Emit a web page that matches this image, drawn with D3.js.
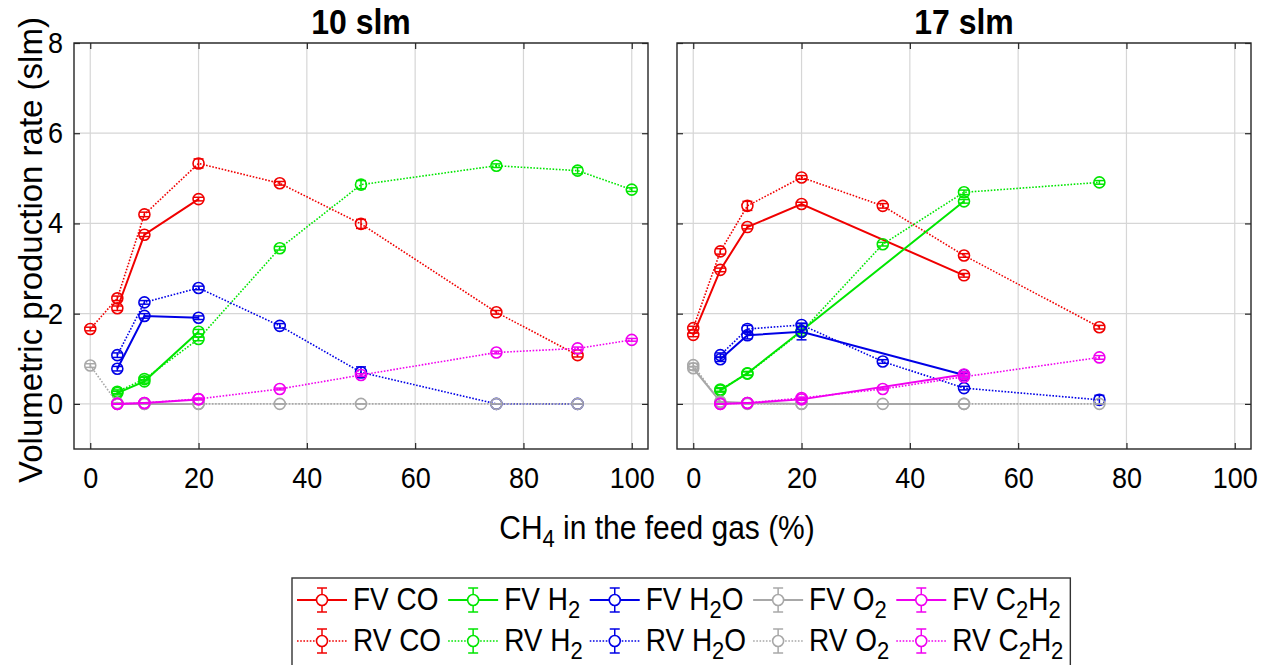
<!DOCTYPE html>
<html><head><meta charset="utf-8">
<script src="https://cdn.jsdelivr.net/npm/d3@7"></script>
<style>body{margin:0;background:#fff}svg{display:block}text{font-family:"Liberation Sans",Arial,sans-serif;fill:#000}</style>
</head><body><svg id="c" width="1262" height="665"></svg>
<script>
// ---------- data ----------
const panelTitles = ["10 slm", "17 slm"];
const xTicks = [0, 20, 40, 60, 80, 100];
const yTicks = [0, 2, 4, 6, 8];
const xLabelMain = "CH";
const xLabelSub = "4";
const xLabelRest = " in the feed gas (%)";
const yLabel = "Volumetric production rate (slm)";

// series keys and legend labels (label parts: [text, isSub])
const seriesKeys = ["FV_CO","RV_CO","FV_H2","RV_H2","FV_H2O","RV_H2O","FV_O2","RV_O2","FV_C2H2","RV_C2H2"];
const seriesLabels = {
  FV_CO:[["FV CO",0]], RV_CO:[["RV CO",0]],
  FV_H2:[["FV H",0],["2",1]], RV_H2:[["RV H",0],["2",1]],
  FV_H2O:[["FV H",0],["2",1],["O",0]], RV_H2O:[["RV H",0],["2",1],["O",0]],
  FV_O2:[["FV O",0],["2",1]], RV_O2:[["RV O",0],["2",1]],
  FV_C2H2:[["FV C",0],["2",1],["H",0],["2",1]], RV_C2H2:[["RV C",0],["2",1],["H",0],["2",1]]
};

// 10 slm panel
const x10_FV_CO = [5,10,20];                     const y10_FV_CO = [2.12,3.75,4.54];
const e10_FV_CO = [0.05,0.04,0.04];
const x10_RV_CO = [0,5,10,20,35,50,75,90];       const y10_RV_CO = [1.66,2.34,4.20,5.33,4.89,3.99,2.03,1.08];
const e10_RV_CO = [0.04,0.05,0.05,0.1,0.04,0.1,0.04,0.04];
const x10_FV_H2 = [5,10,20];                     const y10_FV_H2 = [0.24,0.50,1.60];
const e10_FV_H2 = [0.04,0.04,0.05];
const x10_RV_H2 = [5,10,20,35,50,75,90,100];     const y10_RV_H2 = [0.27,0.55,1.44,3.45,4.86,5.28,5.17,4.75];
const e10_RV_H2 = [0.04,0.04,0.04,0.04,0.09,0.04,0.07,0.04];
const x10_FV_H2O = [5,10,20];                    const y10_FV_H2O = [0.78,1.95,1.91];
const e10_FV_H2O = [0.05,0.05,0.04];
const x10_RV_H2O = [5,10,20,35,50,75,90];        const y10_RV_H2O = [1.08,2.25,2.57,1.73,0.70,0,0];
const e10_RV_H2O = [0.05,0.04,0.04,0.05,0.12,0,0];
const x10_FV_O2 = [5,10,20];                     const y10_FV_O2 = [0,0,0];
const e10_FV_O2 = [0,0,0];
const x10_RV_O2 = [0,5,10,20,35,50,75,90];       const y10_RV_O2 = [0.85,0.02,0,0,0,0,0,0];
const e10_RV_O2 = [0.04,0,0,0,0,0,0,0];
const x10_FV_C2H2 = [5,10,20];                   const y10_FV_C2H2 = [0,0.02,0.10];
const e10_FV_C2H2 = [0,0,0];
const x10_RV_C2H2 = [5,10,20,35,50,75,90,100];   const y10_RV_C2H2 = [0,0.02,0.11,0.33,0.64,1.14,1.23,1.42];
const e10_RV_C2H2 = [0,0,0.02,0.02,0.03,0.03,0.03,0.03];

// 17 slm panel
const x17_FV_CO = [0,5,10,20,50];                const y17_FV_CO = [1.53,2.97,3.92,4.43,2.85];
const e17_FV_CO = [0.04,0.04,0.04,0.04,0.04];
const x17_RV_CO = [0,5,10,20,35,50,75];          const y17_RV_CO = [1.68,3.38,4.39,5.02,4.39,3.29,1.70];
const e17_RV_CO = [0.04,0.06,0.1,0.04,0.05,0.04,0.04];
const x17_FV_H2 = [5,10,20,50];                  const y17_FV_H2 = [0.30,0.68,1.62,4.49];
const e17_FV_H2 = [0.04,0.04,0.04,0.04];
const x17_RV_H2 = [5,10,20,35,50,75];            const y17_RV_H2 = [0.32,0.67,1.60,3.54,4.69,4.91];
const e17_RV_H2 = [0.04,0.04,0.04,0.04,0.05,0.04];
const x17_FV_H2O = [5,10,20,50];                 const y17_FV_H2O = [0.99,1.52,1.60,0.64];
const e17_FV_H2O = [0.05,0.08,0.18,0.04];
const x17_RV_H2O = [5,10,20,35,50,75];           const y17_RV_H2O = [1.08,1.66,1.75,0.94,0.35,0.09];
const e17_RV_H2O = [0.05,0.08,0.04,0.04,0.04,0.1];
const x17_FV_O2 = [0,5,10,20,50];                const y17_FV_O2 = [0.79,0.05,0.02,0,0];
const e17_FV_O2 = [0.04,0,0,0,0];
const x17_RV_O2 = [0,5,10,20,35,50,75];          const y17_RV_O2 = [0.86,0.03,0,0,0,0,0];
const e17_RV_O2 = [0.04,0,0,0,0,0,0];
const x17_FV_C2H2 = [5,10,20,50];                const y17_FV_C2H2 = [0,0.02,0.10,0.65];
const e17_FV_C2H2 = [0,0,0.02,0.04];
const x17_RV_C2H2 = [5,10,20,35,50,75];          const y17_RV_C2H2 = [0,0.02,0.13,0.33,0.60,1.03];
const e17_RV_C2H2 = [0,0,0.02,0.02,0.04,0.04];

// ---------- styles ----------
const colorOf = {CO:"#f00000", H2:"#00e600", H2O:"#0000e6", O2:"#a8a8a8", C2H2:"#f000f0"};
function styleOf(key){
  const [mode, sp] = key.split("_");
  return {color: colorOf[sp], dotted: mode === "RV"};
}

// assemble series per panel
const raw10 = {FV_CO:[x10_FV_CO,y10_FV_CO,e10_FV_CO],RV_CO:[x10_RV_CO,y10_RV_CO,e10_RV_CO],FV_H2:[x10_FV_H2,y10_FV_H2,e10_FV_H2],RV_H2:[x10_RV_H2,y10_RV_H2,e10_RV_H2],FV_H2O:[x10_FV_H2O,y10_FV_H2O,e10_FV_H2O],RV_H2O:[x10_RV_H2O,y10_RV_H2O,e10_RV_H2O],FV_O2:[x10_FV_O2,y10_FV_O2,e10_FV_O2],RV_O2:[x10_RV_O2,y10_RV_O2,e10_RV_O2],FV_C2H2:[x10_FV_C2H2,y10_FV_C2H2,e10_FV_C2H2],RV_C2H2:[x10_RV_C2H2,y10_RV_C2H2,e10_RV_C2H2]};
const raw17 = {FV_CO:[x17_FV_CO,y17_FV_CO,e17_FV_CO],RV_CO:[x17_RV_CO,y17_RV_CO,e17_RV_CO],FV_H2:[x17_FV_H2,y17_FV_H2,e17_FV_H2],RV_H2:[x17_RV_H2,y17_RV_H2,e17_RV_H2],FV_H2O:[x17_FV_H2O,y17_FV_H2O,e17_FV_H2O],RV_H2O:[x17_RV_H2O,y17_RV_H2O,e17_RV_H2O],FV_O2:[x17_FV_O2,y17_FV_O2,e17_FV_O2],RV_O2:[x17_RV_O2,y17_RV_O2,e17_RV_O2],FV_C2H2:[x17_FV_C2H2,y17_FV_C2H2,e17_FV_C2H2],RV_C2H2:[x17_RV_C2H2,y17_RV_C2H2,e17_RV_C2H2]};
const panelsData = [raw10, raw17];

// ---------- layout ----------
const svg = d3.select("#c");
const FONT = "Liberation Sans, Arial, sans-serif";
const VS = 1.1; // vertical text stretch seen in the reference
const panelBoxes = [{x0:74,x1:648},{x0:677,x1:1251}];
const yTop = 43, yBot = 449;
const y = d3.scaleLinear().domain([-1,8]).range([yBot,yTop]);
const R = 5.5, CAP = 5, TICK = 6;

panelBoxes.forEach((pb, pi) => {
  const x = d3.scaleLinear().domain([-3,103]).range([pb.x0,pb.x1]);
  const g = svg.append("g");
  // grid
  g.selectAll(".gx").data(xTicks).enter().append("line")
    .attr("x1",d=>x(d)).attr("x2",d=>x(d)).attr("y1",yTop).attr("y2",yBot)
    .attr("stroke","#d6d6d6").attr("stroke-width",1.2);
  g.selectAll(".gy").data(yTicks).enter().append("line")
    .attr("x1",pb.x0).attr("x2",pb.x1).attr("y1",d=>y(d)).attr("y2",d=>y(d))
    .attr("stroke","#d6d6d6").attr("stroke-width",1.2);

  // axes via d3 axis (ticks inward)
  const axB = d3.axisBottom(x).tickValues(xTicks).tickSizeInner(-TICK).tickSizeOuter(0).tickPadding(16);
  const gb = g.append("g").attr("transform",`translate(0,${yBot})`).call(axB);
  gb.select(".domain").remove();
  gb.selectAll("text").attr("font-size",27).attr("font-family",FONT).attr("fill","#222").attr("dy","0.71em")
    .attr("transform",`scale(1,${VS})`);
  const axT = d3.axisTop(x).tickValues(xTicks).tickSizeInner(-TICK).tickSizeOuter(0).tickFormat("");
  const gt = g.append("g").attr("transform",`translate(0,${yTop})`).call(axT);
  gt.select(".domain").remove();
  const axL = d3.axisLeft(y).tickValues(yTicks).tickSizeInner(-TICK).tickSizeOuter(0).tickPadding(11);
  if (pi === 1) axL.tickFormat("");
  const gl = g.append("g").attr("transform",`translate(${pb.x0},0)`).call(axL);
  gl.select(".domain").remove();
  gl.selectAll("text").attr("font-size",27).attr("font-family",FONT).attr("fill","#222")
    .attr("transform",`scale(1,${VS})`);
  const axR = d3.axisRight(y).tickValues(yTicks).tickSizeInner(-TICK).tickSizeOuter(0).tickFormat("");
  const gr = g.append("g").attr("transform",`translate(${pb.x1},0)`).call(axR);
  gr.select(".domain").remove();
  g.selectAll(".tick line").attr("stroke","#262626").attr("stroke-width",1.2);

  // box
  g.append("rect").attr("x",pb.x0).attr("y",yTop).attr("width",pb.x1-pb.x0).attr("height",yBot-yTop)
    .attr("fill","none").attr("stroke","#262626").attr("stroke-width",1.4);

  // title
  g.append("text").attr("transform",`translate(${(pb.x0+pb.x1)/2},34) scale(1,${VS})`).attr("text-anchor","middle")
    .attr("font-size",32).attr("font-weight","bold").text(panelTitles[pi]);

  // data
  const raw = panelsData[pi];
  const line = d3.line().x(d=>x(d.x)).y(d=>y(d.y));
  seriesKeys.forEach(key => {
    const [xs, ys, es] = raw[key];
    const st = styleOf(key);
    const pts = xs.map((xv,i)=>({x:xv,y:ys[i],e:es[i]}));
    const sg = g.append("g");
    sg.append("path").datum(pts).attr("d",line).attr("fill","none")
      .attr("stroke",st.color).attr("stroke-width",st.dotted?1.6:2)
      .attr("stroke-dasharray",st.dotted?"1.6,1.6":null);
    const eg = sg.selectAll(".pt").data(pts).enter().append("g");
    eg.append("line").attr("x1",d=>x(d.x)).attr("x2",d=>x(d.x))
      .attr("y1",d=>y(d.y-d.e)).attr("y2",d=>y(d.y+d.e)).attr("stroke",st.color).attr("stroke-width",1.5);
    eg.append("line").attr("x1",d=>x(d.x)-CAP).attr("x2",d=>x(d.x)+CAP)
      .attr("y1",d=>y(d.y-d.e)).attr("y2",d=>y(d.y-d.e)).attr("stroke",st.color).attr("stroke-width",1.5);
    eg.append("line").attr("x1",d=>x(d.x)-CAP).attr("x2",d=>x(d.x)+CAP)
      .attr("y1",d=>y(d.y+d.e)).attr("y2",d=>y(d.y+d.e)).attr("stroke",st.color).attr("stroke-width",1.5);
    eg.append("circle").attr("cx",d=>x(d.x)).attr("cy",d=>y(d.y)).attr("r",R)
      .attr("fill","none").attr("stroke",st.color).attr("stroke-width",1.6);
  });
});

// y label
svg.append("text").attr("transform","translate(42,250) rotate(-90)").attr("text-anchor","middle")
  .attr("font-size",33).attr("fill","#111").text(yLabel);
// x label
const xl = svg.append("text").attr("transform",`translate(657,539) scale(1,${VS})`).attr("text-anchor","middle").attr("font-size",30).attr("fill","#111");
xl.append("tspan").text(xLabelMain);
xl.append("tspan").attr("font-size",22).attr("dy",7).text(xLabelSub);
xl.append("tspan").attr("dy",-7).text(xLabelRest);

// legend
const lg = svg.append("g");
const legLeft = 292, legTop = 578, rowY = [600, 641];
let cx = legLeft + 5;
const LFS = 28;
const lineLen = 50;
const colKeys = [["FV_CO","RV_CO"],["FV_H2","RV_H2"],["FV_H2O","RV_H2O"],["FV_O2","RV_O2"],["FV_C2H2","RV_C2H2"]];
function addLabel(parent, parts, x0, yb){
  const t = parent.append("text").attr("transform",`translate(${x0},${yb}) scale(1,${VS})`).attr("font-size",LFS).attr("fill","#111");
  let sub = false;
  parts.forEach(([s,isSub])=>{
    const sp = t.append("tspan").text(s);
    if (isSub && !sub){ sp.attr("font-size",22).attr("dy",7); sub = true; }
    else if (!isSub && sub){ sp.attr("dy",-7); sub = false; }
  });
  return t;
}
colKeys.forEach(col => {
  let maxW = 0;
  col.forEach((key,ri) => {
    const st = styleOf(key);
    const yy = rowY[ri];
    lg.append("line").attr("x1",cx).attr("x2",cx+lineLen).attr("y1",yy).attr("y2",yy)
      .attr("stroke",st.color).attr("stroke-width",st.dotted?1.6:2).attr("stroke-dasharray",st.dotted?"1.6,1.6":null);
    const mx = cx + lineLen/2;
    lg.append("line").attr("x1",mx).attr("x2",mx).attr("y1",yy-12).attr("y2",yy+12).attr("stroke",st.color).attr("stroke-width",1.5);
    lg.append("line").attr("x1",mx-5).attr("x2",mx+5).attr("y1",yy-12).attr("y2",yy-12).attr("stroke",st.color).attr("stroke-width",1.5);
    lg.append("line").attr("x1",mx-5).attr("x2",mx+5).attr("y1",yy+12).attr("y2",yy+12).attr("stroke",st.color).attr("stroke-width",1.5);
    lg.append("circle").attr("cx",mx).attr("cy",yy).attr("r",R).attr("fill","#fff").attr("stroke",st.color).attr("stroke-width",1.6);
    const t = addLabel(lg, seriesLabels[key], cx+lineLen+6, yy+10);
    maxW = Math.max(maxW, t.node().getComputedTextLength());
  });
  cx = cx + lineLen + 6 + maxW + 7;
});
lg.insert("rect",":first-child").attr("x",legLeft).attr("y",legTop).attr("width",cx-legLeft).attr("height",95)
  .attr("fill","#fff").attr("stroke","#333").attr("stroke-width",1.4);
</script></body></html>
